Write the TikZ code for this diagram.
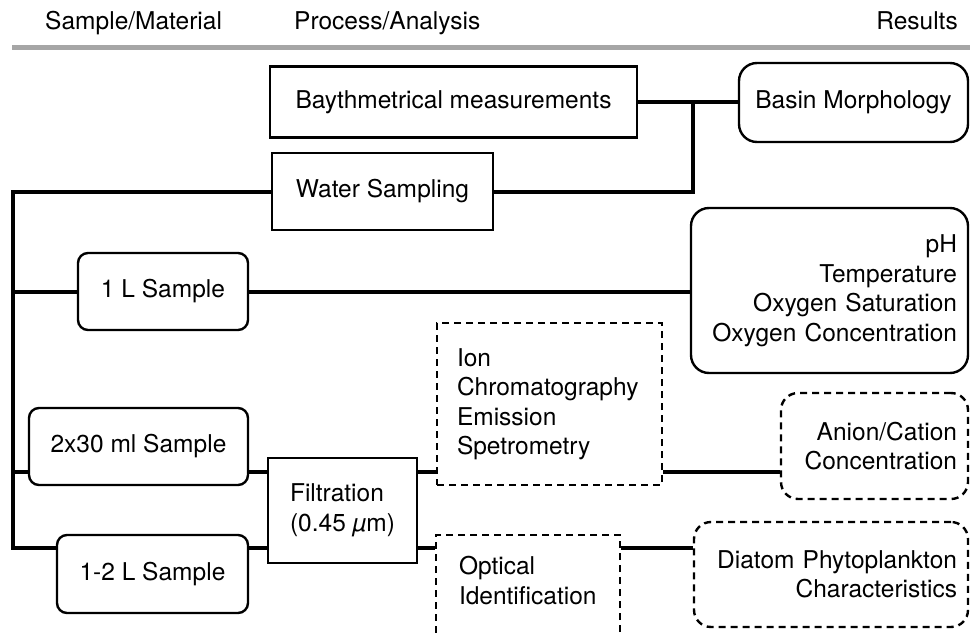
\documentclass[tikz,border=0pt]{standalone}
\usepackage{fontspec}
\setmainfont{TeX Gyre Heros}
\usepackage{tikz}
\usetikzlibrary{positioning, arrows}
\tikzstyle{line} = [draw, line width=4pt]
\definecolor{rulegray}{HTML}{A6A6A6}
\tikzstyle{blockprocess} = [rectangle, draw, line width=2.4pt, inner sep=0pt,
    text centered]
\tikzstyle{blocksample} = [rectangle, draw, line width=2.4pt, inner sep=0pt,
    text centered, rounded corners=10pt]
\tikzstyle{blockresult} = [rectangle, draw, line width=2.4pt, inner xsep=11pt,
    inner ysep=0pt, align=right, rounded corners=18pt]
\tikzstyle{blockanalysis} = [rectangle, draw, line width=2.4pt, inner ysep=0pt,
    align=left, dash pattern=on 7pt off 5pt]
\tikzstyle{blockoutcome} = [rectangle, draw, line width=2.4pt, inner xsep=11pt,
    inner ysep=0pt, align=right, dash pattern=on 7pt off 5pt, rounded corners=17pt]

\begin{document}
\begin{tikzpicture}[x=1pt, y=-1pt, font=\fontsize{24.5}{29.5}\selectfont]
            \clip (0,0) rectangle (970,637);

            % header
            \node[anchor=base west, inner sep=0pt] (hsample) at (45,29.5) {Sample/Material};
            \node[anchor=base west, inner sep=0pt] (hprocess) at (294,29.5) {Process/Analysis};
            \node[anchor=base east, inner sep=0pt] (hresults) at (958,29.5) {Results};
            \draw[rulegray, line width=5pt] (12,47.5) -- (970,47.5);

            % process column
            \node[blockprocess, minimum width=367pt, minimum height=71pt] (bayth) at (453.5,102) {Baythmetrical measurements};
            \node[blockprocess, minimum width=221pt, minimum height=77pt] (water) at (382.5,191.5) {Water Sampling};
            \node[blockprocess, align=left, minimum width=149pt, minimum height=105pt] (filt) at (342.5,510.5) {Filtration\\(0.45 \textit{\char"00B5}m)};
            \node[blockanalysis, inner xsep=20pt, text width=185pt, minimum height=162pt] (ion) at (549.5,404) {Ion\\Chromatography\\Emission\\Spetrometry};
            \node[blockanalysis, inner xsep=23pt, text width=138pt, minimum height=129pt] (optical) at (528,599.5) {Optical\\Identification\\\strut};

            % samples
            \node[blocksample, minimum width=170pt, minimum height=77pt] (onel) at (163,291.5) {1 L Sample};
            \node[blocksample, minimum width=219pt, minimum height=77pt] (twoml) at (138.5,446.5) {2x30 ml Sample};
            \node[blocksample, minimum width=191pt, minimum height=78pt] (onetwol) at (152.5,574) {1-2 L Sample};

            % results
            \node[blockresult, align=center, minimum width=229pt, minimum height=79pt] (basin) at (853.5,102.5) {Basin Morphology};
            \node[blockresult, text width=255pt, minimum height=165pt] (params) at (829.5,290.5) {pH\\Temperature\\Oxygen Saturation\\Oxygen Concentration};
            \node[blockoutcome, text width=165pt, minimum height=106pt] (anion) at (874.5,446) {Anion/Cation\\Concentration};
            \node[blockoutcome, text width=252pt, minimum height=105pt] (diatom) at (831,574.5) {Diatom Phytoplankton\\Characteristics};

            \coordinate (merge) at (693,102);
            \coordinate (busend) at (13,548);
            \coordinate (upper) at (13,472);

            \path [line] (bayth.east) -- (bayth.east -| basin.west);
            \path [line] (water.east) -| (merge);
            \path [line] (water.west) -| (busend) -- (busend -| onetwol.west);
            \path [line] (busend |- onel) -- (onel.west);
            \path [line] (onel.east) -- (onel.east -| params.west);
            \path [line] (upper) -- (upper -| twoml.west);
            \path [line] (upper -| twoml.east) -- (upper -| filt.west);
            \path [line] (busend -| onetwol.east) -- (busend -| filt.west);
            \path [line] (upper -| filt.east) -- (upper -| ion.west);
            \path [line] (busend -| filt.east) -- (busend -| optical.west);
            \path [line] (upper -| ion.east) -- (upper -| anion.west);
            \path [line] (busend -| optical.east) -- (busend -| diatom.west);
\end{tikzpicture}
\end{document}
